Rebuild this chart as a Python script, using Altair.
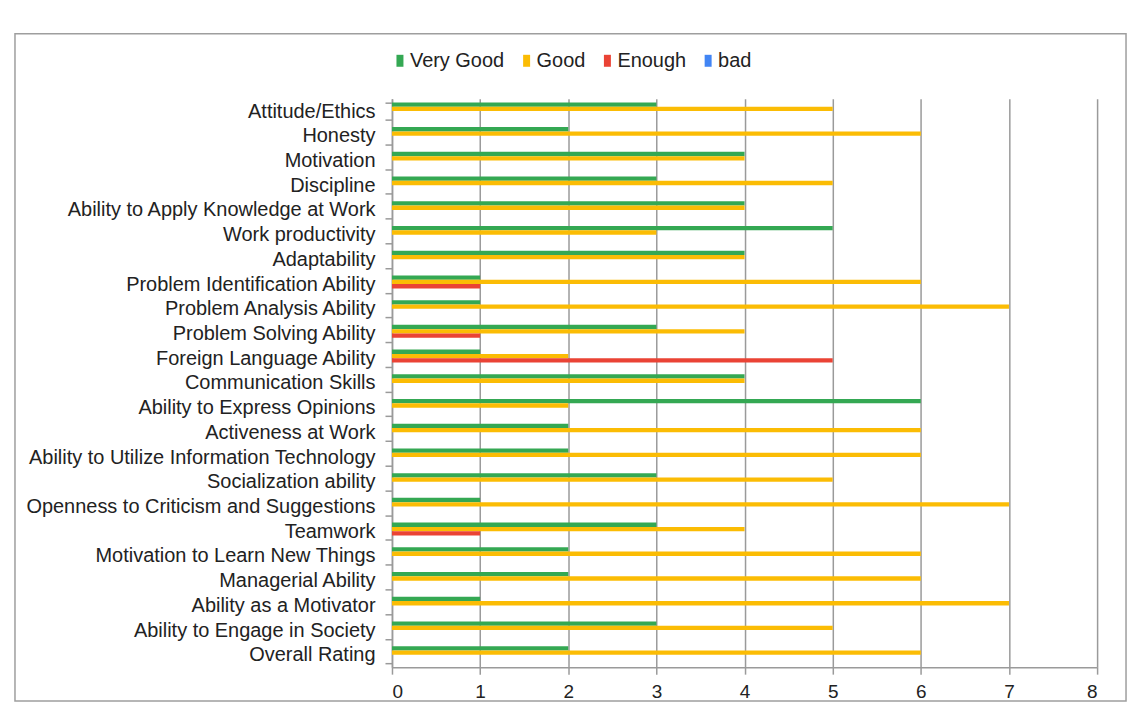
import altair as alt
import pandas as pd

categories = [
    "Attitude/Ethics", "Honesty", "Motivation", "Discipline",
    "Ability to Apply Knowledge at Work", "Work productivity", "Adaptability",
    "Problem Identification Ability", "Problem Analysis Ability",
    "Problem Solving Ability", "Foreign Language Ability", "Communication Skills",
    "Ability to Express Opinions", "Activeness at Work",
    "Ability to Utilize Information Technology", "Socialization ability",
    "Openness to Criticism and Suggestions", "Teamwork",
    "Motivation to Learn New Things", "Managerial Ability",
    "Ability as a Motivator", "Ability to Engage in Society", "Overall Rating",
]
very_good = [3, 2, 4, 3, 4, 5, 4, 1, 1, 3, 1, 4, 6, 2, 2, 3, 1, 3, 2, 2, 1, 3, 2]
good      = [5, 6, 4, 5, 4, 3, 4, 6, 7, 4, 2, 4, 2, 6, 6, 5, 7, 4, 6, 6, 7, 5, 6]
enough    = [0, 0, 0, 0, 0, 0, 0, 1, 0, 1, 5, 0, 0, 0, 0, 0, 0, 1, 0, 0, 0, 0, 0]
bad       = [0, 0, 0, 0, 0, 0, 0, 0, 0, 0, 0, 0, 0, 0, 0, 0, 0, 0, 0, 0, 0, 0, 0]
series = ["Very Good", "Good", "Enough", "bad"]
colors = ["#34a853", "#fbbc04", "#ea4335", "#4285f4"]
x_ticks = [0, 1, 2, 3, 4, 5, 6, 7, 8]

rows = []
for name, vals in zip(series, [very_good, good, enough, bad]):
    for c, v in zip(categories, vals):
        rows.append({"category": c, "series": name, "value": v})
df = pd.DataFrame(rows)

FONT = "Liberation Sans"
GRID = "#9a9a9a"

bars = alt.Chart(df).mark_bar().encode(
    x=alt.X("value:Q",
            scale=alt.Scale(domain=[0, 8], nice=False),
            axis=alt.Axis(values=x_ticks, title=None, grid=True, gridColor=GRID,
                          gridWidth=1.5, domainColor=GRID, domainWidth=1.5,
                          tickColor=GRID, tickWidth=1.5, tickSize=7,
                          labelFontSize=19, labelFont=FONT, labelColor="#222222",
                          labelPadding=8, format="d")),
    y=alt.Y("category:N", sort=categories,
            scale=alt.Scale(paddingInner=0.3, paddingOuter=0.15),
            axis=alt.Axis(title=None, tickBand="extent", tickSize=7, tickColor=GRID,
                          tickWidth=1.5, domainColor=GRID, domainWidth=1.5,
                          labelFontSize=20, labelFont=FONT, labelColor="#222222",
                          labelPadding=10, labelLimit=600, grid=False)),
    yOffset=alt.YOffset("series:N", sort=series,
                        scale=alt.Scale(paddingInner=0, paddingOuter=0)),
    color=alt.Color("series:N", sort=series,
                    scale=alt.Scale(domain=series, range=colors),
                    legend=alt.Legend(orient="none", legendX=-2, legendY=-48,
                                      direction="horizontal", columns=4, title=None,
                                      symbolType="M-0.875,-1.5L0.875,-1.5L0.875,1.5L-0.875,1.5Z",
                                      symbolSize=64, symbolStrokeWidth=0,
                                      labelFontSize=20, labelFont=FONT,
                                      labelColor="#222222", labelOffset=0,
                                      columnPadding=12, padding=0)),
)

border = alt.Chart(alt.Data(values=[{"b": 1}])).mark_rect(
    fill="white", fillOpacity=0, stroke="#9e9e9e", strokeWidth=1.5
).encode(
    x=alt.value(-378), x2=alt.value(736), y=alt.value(-65), y2=alt.value(604)
)

chart = alt.layer(border, bars).properties(
    width=707, height=570,
    autosize=alt.AutoSizeParams(type="none"),
    padding={"left": 385, "top": 90, "right": 38, "bottom": 35},
).configure(background="white").configure_view(stroke=None)

chart.save("out.html", embed_options={"renderer": "svg", "actions": False})
